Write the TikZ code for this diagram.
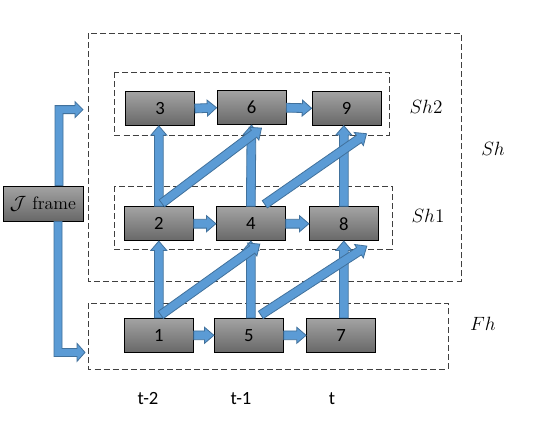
\documentclass[tikz,border=0pt]{standalone}
\usepackage{fontspec}
\usetikzlibrary{calc}
\newfontfamily\calibrifont{Carlito}
\definecolor{arrfill}{HTML}{5B9BD5}
\definecolor{arrdraw}{HTML}{41719C}
\definecolor{boxtop}{HTML}{A3A3A3}
\definecolor{boxbot}{HTML}{686868}
\tikzset{
  framebox/.style={draw=black, line width=0.6pt, top color=boxtop, bottom color=boxbot,
    minimum width=51.75pt, minimum height=25.5pt, inner sep=0pt,
    font=\calibrifont\fontsize{14}{16}\selectfont},
  jbox/.style={framebox, minimum width=60pt, minimum height=26.25pt, font=\fontsize{13.5}{16}\selectfont},
  blockarrow/.style={draw=arrdraw, fill=arrfill, line width=0.6pt, line join=miter},
  groupbox/.style={draw=black!75, line width=0.7pt, dash pattern=on 4.5pt off 2.3pt},
  grouplabel/.style={font=\fontsize{14}{16}\selectfont},
  timelabel/.style={font=\calibrifont\fontsize{14}{16}\selectfont},
}
\newcommand\blockarr[2]{%
  \draw[blockarrow] let \p1=(#1), \p2=(#2), \p3=($(\p2)!7pt!(\p1)$) in
    ($(\p1)!3.3pt!90:(\p2)$) -- ($(\p3)!3.3pt!-90:(\p1)$) -- ($(\p3)!6pt!-90:(\p1)$) -- (\p2)
    -- ($(\p3)!6pt!90:(\p1)$) -- ($(\p3)!3.3pt!90:(\p1)$) -- ($(\p1)!3.3pt!-90:(\p2)$) -- cycle;}
\begin{document}
\begin{tikzpicture}[x=0.75pt,y=-0.75pt]
\useasboundingbox (0,0) rectangle (535,422);
\fill[white] (0,0) rectangle (535,422);
% groups
\draw[groupbox] (88,33) rectangle (461,281);
\draw[groupbox] (114,72) rectangle (389,135);
\draw[groupbox] (114,186) rectangle (392,249);
\draw[groupbox] (88,303) rectangle (448,369);
% boxes
\node[framebox] (b3) at (160,108.5) {3};
\node[framebox] (b6) at (251.5,107.7) {6};
\node[framebox] (b9) at (346.5,108.3) {9};
\node[framebox] (b2) at (158.8,223.7) {2};
\node[framebox] (b4) at (250.8,223.7) {4};
\node[framebox] (b8) at (343.8,223.7) {8};
\node[framebox] (b1) at (158.8,335.3) {1};
\node[framebox] (b5) at (248.8,335.3) {5};
\node[framebox] (b7) at (341,335.3) {7};
\node[jbox] (J) at (43,203.5) {$\mathcal{J}$ frame};
% elbow arrows from J frame
\draw[blockarrow] ($(J.north)+(12,0)$) -- ++(0,-80) -- ++(20,0) -- ++(0,-4) -- ++(8,8)
  -- ++(-8,8) -- ++(0,-4) -- ++(-12,0) -- ++(0,72) -- cycle;
\draw[blockarrow] ($(J.south)+(11,0)$) -- ++(0,135) -- ++(23,0) -- ++(0,5) -- ++(8,-9)
  -- ++(-8,-9) -- ++(0,5) -- ++(-15,0) -- ++(0,-127) -- cycle;
% horizontal arrows
\blockarr{b3.east}{b6.west}
\blockarr{b6.east}{b9.west}
\blockarr{b2.east}{b4.west}
\blockarr{b4.east}{b8.west}
\blockarr{b1.east}{b5.west}
\blockarr{b5.east}{b7.west}
% vertical arrows
\coordinate (s54) at (b5.north -| b4.south);
\coordinate (s78) at (b7.north -| b8.south);
\coordinate (e89) at (b9.south -| b8.north);
\coordinate (e23) at (b3.south -| b2.north);
\blockarr{b1.north}{b2.south}
\blockarr{b2.north}{e23}
\blockarr{s54}{b4.south}
\blockarr{b4.north}{b6.south}
\blockarr{s78}{b8.south}
\blockarr{b8.north}{e89}
% diagonal arrows
\coordinate (s26) at ($(b2.north)+(3,-3)$);
\coordinate (e26) at ($(b6.south)+(10,3)$);
\coordinate (s14) at ($(b1.north)+(2,-3)$);
\coordinate (e14) at ($(b4.south)+(9,3)$);
\coordinate (s49) at ($(b4.north)+(14,-2)$);
\coordinate (e49) at ($(b9.south)+(20,8)$);
\coordinate (s58) at ($(b5.north)+(12,-3)$);
\coordinate (e58) at ($(b8.south)+(23,5)$);
\blockarr{s26}{e26}
\blockarr{s14}{e14}
\blockarr{s49}{e49}
\blockarr{s58}{e58}
% labels
\node[grouplabel] (lsh2) at (426,107) {$Sh2$};
\node[grouplabel] (lsh) at (493,149) {$Sh$};
\node[grouplabel] (lsh1) at (428,216) {$Sh1$};
\node[grouplabel] (lfh) at (483,324) {$Fh$};
\node[timelabel] (t2) at (148,399) {t-2};
\node[timelabel] (t1) at (241,399) {t-1};
\node[timelabel] (t0) at (332,399) {t};
\end{tikzpicture}
\end{document}
